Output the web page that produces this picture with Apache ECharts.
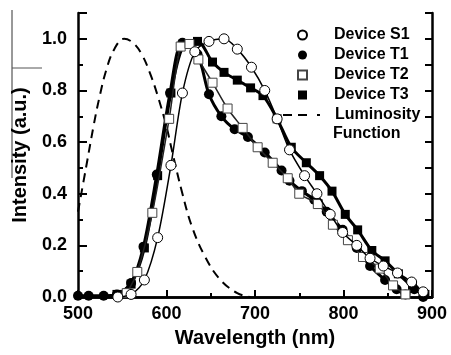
<!DOCTYPE html>
<html>
<head>
<meta charset="utf-8">
<script src="https://cdn.jsdelivr.net/npm/echarts@6/dist/echarts.min.js"></script>
<style>
html,body{margin:0;padding:0;background:#fff;}
#c{width:451px;height:355px;}
</style>
</head>
<body>
<div id="c"></div>
<script>
// ---- data (wavelength nm, intensity a.u.) ----
var xTicks = [500, 600, 700, 800, 900];
var yTicks = [0.0, 0.2, 0.4, 0.6, 0.8, 1.0];

var s1Wl  = [545, 560, 575, 590, 605, 618, 632, 648, 665, 680, 696, 711, 725, 739, 756, 770, 785, 799, 815, 830, 845, 861, 877, 890];
var s1Val = [0.0, 0.01, 0.066, 0.23, 0.51, 0.79, 0.95, 0.99, 1.0, 0.96, 0.89, 0.80, 0.69, 0.57, 0.47, 0.40, 0.32, 0.25, 0.20, 0.15, 0.12, 0.093, 0.058, 0.02];

var t1Wl  = [500, 512, 529, 544, 560, 574, 589, 604, 618, 635, 648, 662, 677, 692, 711, 730, 739, 753, 767, 781, 799, 815, 830, 847, 860, 870, 880, 890];
var t1Val = [0.005, 0.005, 0.005, 0.01, 0.054, 0.195, 0.474, 0.79, 0.985, 0.94, 0.785, 0.70, 0.65, 0.62, 0.56, 0.49, 0.45, 0.41, 0.377, 0.33, 0.26, 0.19, 0.12, 0.066, 0.03, 0.01, 0.03, 0.0];

var t2Wl  = [555, 567, 584, 603, 616, 626, 636, 652, 669, 686, 703, 720, 737, 750, 771, 788, 805, 822, 841, 856, 870];
var t2Val = [0.015, 0.097, 0.326, 0.69, 0.97, 0.98, 0.92, 0.83, 0.73, 0.655, 0.58, 0.52, 0.46, 0.40, 0.36, 0.28, 0.22, 0.155, 0.11, 0.045, 0.01];

var t3Wl  = [544, 560, 575, 590, 605, 620, 635, 652, 665, 680, 695, 709, 725, 741, 758, 773, 787, 802, 816, 832, 847, 862, 878, 892];
var t3Val = [0.01, 0.05, 0.19, 0.47, 0.79, 0.98, 0.99, 0.91, 0.87, 0.84, 0.81, 0.78, 0.69, 0.58, 0.52, 0.47, 0.41, 0.32, 0.26, 0.18, 0.14, 0.09, 0.04, 0.01];

var lumWl  = [500, 509, 518, 524, 532, 541, 552, 562, 572, 581, 590, 600, 606, 618, 629, 643, 660, 680, 695];
var lumVal = [0.33, 0.50, 0.67, 0.77, 0.88, 0.96, 1.0, 0.985, 0.94, 0.87, 0.78, 0.66, 0.57, 0.40, 0.27, 0.16, 0.07, 0.015, 0.0];

var names = ['Device S1', 'Device T1', 'Device T2', 'Device T3', 'Luminosity'];
var lumSecondLine = 'Function';

function pairs(a, b) { return a.map(function (v, i) { return [v, b[i]]; }); }

var FONT = 'Liberation Sans, Arial, sans-serif';
var chart = echarts.init(document.getElementById('c'), null, {renderer: 'canvas'});

var axisLine = {show: true, lineStyle: {color: '#000', width: 2.5}};
var legendText = {color: '#000', fontFamily: FONT, fontWeight: 'bold', fontSize: 16};

chart.setOption({
  backgroundColor: '#fff',
  animation: false,
  grid: {left: 78, right: 19, top: 13, bottom: 58, containLabel: false},
  xAxis: [{
    type: 'value', min: xTicks[0], max: xTicks[xTicks.length - 1], interval: 100,
    position: 'bottom',
    axisLine: axisLine,
    axisTick: {show: true, inside: true, length: 7, lineStyle: {color: '#000', width: 2}},
    minorTick: {show: true, splitNumber: 2, length: 4, lineStyle: {color: '#000', width: 2}},
    splitLine: {show: false},
    axisLabel: {color: '#000', fontFamily: FONT, fontWeight: 'bold', fontSize: 18, margin: 8},
    name: 'Wavelength (nm)', nameLocation: 'middle', nameGap: 31,
    nameTextStyle: {color: '#000', fontFamily: FONT, fontWeight: 'bold', fontSize: 20}
  }, {
    type: 'value', min: 500, max: 900, position: 'top',
    axisLine: axisLine, axisTick: {show: false}, axisLabel: {show: false}, splitLine: {show: false}
  }],
  yAxis: [{
    type: 'value', min: 0, max: 1.1, interval: 0.2,
    position: 'left',
    axisLine: axisLine,
    axisTick: {show: true, inside: true, length: 9, lineStyle: {color: '#000', width: 2}},
    minorTick: {show: true, splitNumber: 2, length: 5, lineStyle: {color: '#000', width: 2}},
    splitLine: {show: false},
    axisLabel: {color: '#000', fontFamily: FONT, fontWeight: 'bold', fontSize: 18, margin: 11,
      showMaxLabel: false,
      formatter: function (v) { return yTicks.indexOf(Math.round(v * 10) / 10) >= 0 ? v.toFixed(1) : ''; }},
    name: 'Intensity (a.u.)', nameLocation: 'middle', nameGap: 48,
    nameTextStyle: {color: '#000', fontFamily: FONT, fontWeight: 'bold', fontSize: 20}
  }, {
    type: 'value', min: 0, max: 1.1, interval: 0.1, position: 'right',
    axisLine: axisLine,
    axisTick: {show: true, inside: true, length: 7, lineStyle: {color: '#000', width: 2}},
    axisLabel: {show: false}, splitLine: {show: false}
  }],
  legend: [{
    orient: 'vertical', left: 297, top: 27, padding: 0, itemGap: 4,
    itemWidth: 9, itemHeight: 9, selectedMode: false,
    textStyle: Object.assign({padding: [0, 0, 0, 22]}, legendText),
    data: [
      {name: names[0], icon: 'circle'},
      {name: names[1], icon: 'circle'},
      {name: names[2], icon: 'rect'},
      {name: names[3], icon: 'rect'}
    ]
  }, {
    orient: 'vertical', left: 283, top: 107, padding: 0,
    itemWidth: 37, itemHeight: 2.5, selectedMode: false,
    textStyle: Object.assign({padding: [0, 0, 0, 10]}, legendText),
    data: [{name: names[4], icon: 'path://M0,0h9v2h-9z M15,0h9v2h-9z M34,0h3v2h-3z'}]
  }],
  graphic: [
    {type: 'line', shape: {x1: 12, y1: 10, x2: 12, y2: 178}, style: {stroke: '#333', lineWidth: 1}},
    {type: 'line', shape: {x1: 12, y1: 68, x2: 42, y2: 68}, style: {stroke: '#555', lineWidth: 1}},
    {type: 'line', shape: {x1: 12, y1: 154, x2: 25, y2: 154}, style: {stroke: '#555', lineWidth: 1}},
    {type: 'text', left: 333, top: 126, style: {text: lumSecondLine, fill: '#000', font: 'bold 16px ' + FONT}}
  ],
  series: [{
    name: names[4], type: 'line', data: pairs(lumWl, lumVal), smooth: 0.4,
    symbol: 'none', itemStyle: {color: '#000'},
    lineStyle: {color: '#000', width: 2, type: [9, 6]}, z: 1
  }, {
    name: names[1], type: 'line', data: pairs(t1Wl, t1Val), smooth: 0.3,
    symbol: 'circle', symbolSize: 10, itemStyle: {color: '#000'},
    lineStyle: {color: '#000', width: 3}, z: 3
  }, {
    name: names[3], type: 'line', data: pairs(t3Wl, t3Val), smooth: 0.3,
    symbol: 'rect', symbolSize: 9, itemStyle: {color: '#000'},
    lineStyle: {color: '#000', width: 3}, z: 3
  }, {
    name: names[2], type: 'line', data: pairs(t2Wl, t2Val), smooth: 0.3,
    symbol: 'rect', symbolSize: 9, itemStyle: {color: '#fff', borderColor: '#444', borderWidth: 1},
    lineStyle: {color: '#222', width: 1.5}, z: 4
  }, {
    name: names[0], type: 'line', data: pairs(s1Wl, s1Val), smooth: 0.3,
    symbol: 'circle', symbolSize: 10, itemStyle: {color: '#fff', borderColor: '#000', borderWidth: 1},
    lineStyle: {color: '#000', width: 1.5}, z: 5
  }]
});
</script>
</body>
</html>
